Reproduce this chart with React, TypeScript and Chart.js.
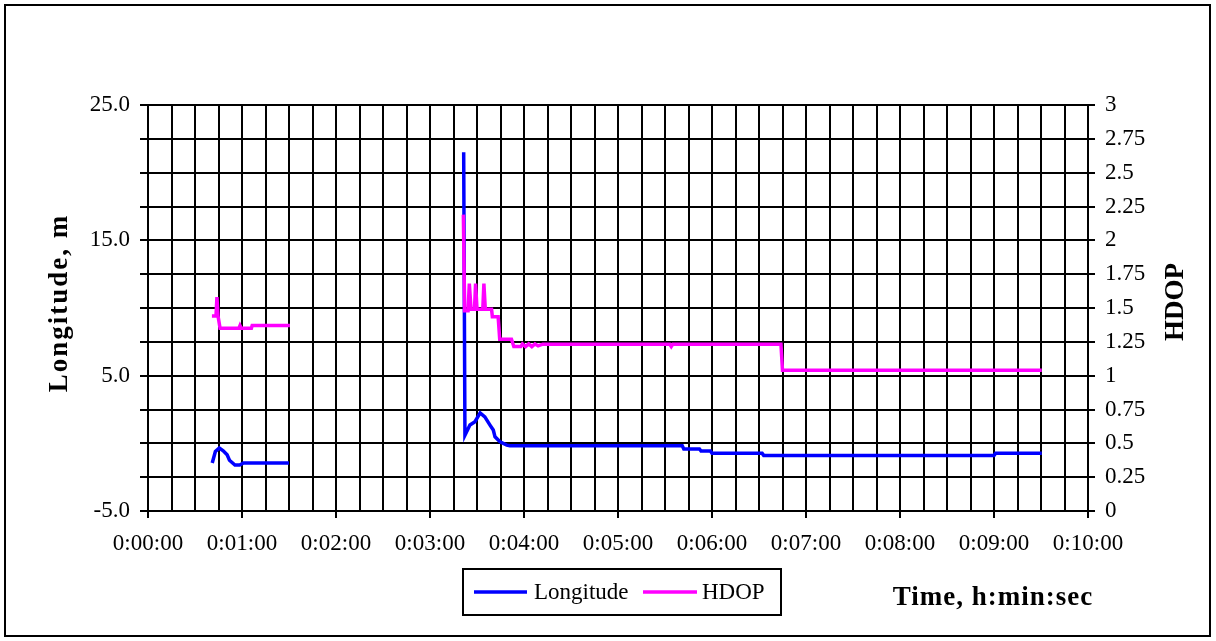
import React, { useEffect, useRef } from 'react';
import { Chart, registerables } from 'chart.js';

Chart.register(...registerables);

// ---- Data (time in seconds) ----
const lonTime1 = [41, 43, 45.5, 48, 50.5, 52, 55.5, 58.5, 61, 90];
const lonVal1 = [-1.45, -0.6, -0.35, -0.55, -0.85, -1.25, -1.6, -1.6, -1.45, -1.45];

const lonTime2 = [201.5, 202.3, 205.5, 208.7, 212, 215, 218.3, 220.4, 221.5, 224.7, 229, 231, 341, 342, 352, 353, 359, 360, 392, 393, 540, 541, 570.5];
const lonVal2 = [21.5, 0.6, 1.35, 1.6, 2.25, 1.96, 1.35, 0.98, 0.48, 0.11, -0.13, -0.18, -0.18, -0.42, -0.42, -0.57, -0.57, -0.74, -0.74, -0.89, -0.89, -0.74, -0.74];

const hdopTime1 = [40.8, 43.4, 44, 44.7, 46, 58, 58.7, 59.5, 66, 66.5, 90.6];
const hdopVal1 = [1.44, 1.44, 1.58, 1.44, 1.35, 1.35, 1.37, 1.35, 1.35, 1.37, 1.37];

const hdopTime2 = [201.3, 202.1, 204.3, 205.1, 206.2, 208.4, 209.1, 210, 213.7, 214.4, 215.3, 219.3, 219.8, 223.5, 224.5, 232, 233.5, 238, 239, 241, 243, 245, 247, 249, 252, 333, 334, 335, 404, 405, 570.5];
const hdopVal2 = [2.19, 1.48, 1.48, 1.68, 1.49, 1.49, 1.68, 1.49, 1.49, 1.68, 1.49, 1.49, 1.435, 1.435, 1.27, 1.27, 1.215, 1.215, 1.235, 1.215, 1.235, 1.215, 1.235, 1.22, 1.233, 1.233, 1.215, 1.233, 1.233, 1.04, 1.04];

const xTickLabels = ['0:00:00', '0:01:00', '0:02:00', '0:03:00', '0:04:00', '0:05:00', '0:06:00', '0:07:00', '0:08:00', '0:09:00', '0:10:00'];
const leftTickLabels = ['-5.0', '5.0', '15.0', '25.0'];
const seriesNames = ['Longitude', 'HDOP'];
const seriesColors = ['#0000FF', '#FF00FF'];

const FONT = "'Liberation Serif', 'Times New Roman', serif";

function toPoints(t1: number[], v1: number[], t2: number[], v2: number[]) {
  const a = t1.map((t, i) => ({ x: t, y: v1[i] as number | null }));
  const b = t2.map((t, i) => ({ x: t, y: v2[i] as number | null }));
  return [...a, { x: (t1[t1.length - 1] + t2[0]) / 2, y: null }, ...b];
}

const decorPlugin = {
  id: 'decor',
  afterDraw(chart: any) {
    const ctx = chart.ctx as CanvasRenderingContext2D;
    ctx.save();
    ctx.strokeStyle = '#000';
    ctx.lineWidth = 2;
    ctx.strokeRect(5, 5, 1205, 631);

    ctx.fillStyle = '#000';
    ctx.textAlign = 'center';
    ctx.textBaseline = 'middle';
    ctx.font = `bold 27px ${FONT}`;
    (ctx as any).letterSpacing = '2px';
    ctx.save();
    ctx.translate(60, 303);
    ctx.rotate(-Math.PI / 2);
    ctx.fillText('Longitude, m', 0, 0);
    ctx.restore();
    (ctx as any).letterSpacing = '0px';
    ctx.save();
    ctx.translate(1176, 302);
    ctx.rotate(-Math.PI / 2);
    ctx.fillText('HDOP', 0, 0);
    ctx.restore();
    (ctx as any).letterSpacing = '1px';
    ctx.fillText('Time, h:min:sec', 993, 598);
    (ctx as any).letterSpacing = '0px';

    // legend
    ctx.lineWidth = 2;
    ctx.strokeRect(463, 569, 318, 46);
    ctx.font = `23px ${FONT}`;
    ctx.textAlign = 'left';
    const items = [
      { x0: 474, x1: 527, tx: 534 },
      { x0: 643, x1: 697, tx: 702 },
    ];
    chart.data.datasets.forEach((ds: any, i: number) => {
      const it = items[i];
      ctx.strokeStyle = ds.borderColor;
      ctx.lineWidth = 3.5;
      ctx.beginPath();
      ctx.moveTo(it.x0, 592);
      ctx.lineTo(it.x1, 592);
      ctx.stroke();
      ctx.fillStyle = '#000';
      ctx.fillText(ds.label, it.tx, 593);
    });
    ctx.restore();
  },
};

export default function App() {
  const canvasRef = useRef<HTMLCanvasElement | null>(null);

  useEffect(() => {
    document.body.style.margin = '0';
    const canvas = canvasRef.current;
    if (!canvas) return;
    const chart = new Chart(canvas, {
      type: 'line',
      data: {
        datasets: [
          {
            label: seriesNames[0],
            data: toPoints(lonTime1, lonVal1, lonTime2, lonVal2),
            borderColor: seriesColors[0],
            backgroundColor: seriesColors[0],
            borderWidth: 3.5,
            pointRadius: 0,
            tension: 0,
            yAxisID: 'y',
            spanGaps: false,
            order: 1,
          },
          {
            label: seriesNames[1],
            data: toPoints(hdopTime1, hdopVal1, hdopTime2, hdopVal2),
            borderColor: seriesColors[1],
            backgroundColor: seriesColors[1],
            borderWidth: 3.5,
            pointRadius: 0,
            tension: 0,
            yAxisID: 'y1',
            spanGaps: false,
            order: 0,
          },
        ],
      },
      options: {
        responsive: false,
        maintainAspectRatio: false,
        animation: false,
        layout: { padding: { top: 105, left: 0, right: 0, bottom: 0 } },
        plugins: { legend: { display: false }, tooltip: { enabled: false } },
        scales: {
          x: {
            type: 'linear',
            min: 0,
            max: 600,
            afterFit: (s: any) => { s.height = 130; },
            ticks: {
              stepSize: 15,
              autoSkip: false,
              maxRotation: 0,
              padding: 12,
              color: '#000',
              font: { family: FONT, size: 23 },
              callback: (v: any) => (Number(v) % 60 === 0 ? xTickLabels[Number(v) / 60] : ''),
            },
            grid: {
              color: '#000',
              lineWidth: 2,
              tickLength: 7,
              tickColor: (c: any) => (c.tick && c.tick.value % 60 === 0 ? '#000' : 'rgba(0,0,0,0)'),
            },
            border: { color: '#000', width: 2 },
          },
          y: {
            type: 'linear',
            position: 'left',
            min: -5,
            max: 25,
            afterFit: (s: any) => { s.width = 148; },
            ticks: {
              stepSize: 2.5,
              padding: 10,
              color: '#000',
              font: { family: FONT, size: 23 },
              callback: (v: any) => {
                const n = Number(v);
                return (n + 5) % 10 === 0 ? leftTickLabels[(n + 5) / 10] : '';
              },
            },
            grid: { drawOnChartArea: false, color: '#000', lineWidth: 2, tickLength: 8 },
            border: { color: '#000', width: 2 },
          },
          y1: {
            type: 'linear',
            position: 'right',
            min: 0,
            max: 3,
            afterFit: (s: any) => { s.width = 128; },
            ticks: {
              stepSize: 0.25,
              padding: 10,
              color: '#000',
              font: { family: FONT, size: 23 },
              callback: (v: any) => String(Number(v)),
            },
            grid: { drawOnChartArea: true, color: '#000', lineWidth: 2, tickLength: 7 },
            border: { color: '#000', width: 2 },
          },
        },
      },
      plugins: [decorPlugin],
    });
    return () => chart.destroy();
  }, []);

  return (
    <div style={{ width: 1216, height: 641, background: '#fff' }}>
      <canvas ref={canvasRef} width={1216} height={641} style={{ display: 'block' }} />
    </div>
  );
}
